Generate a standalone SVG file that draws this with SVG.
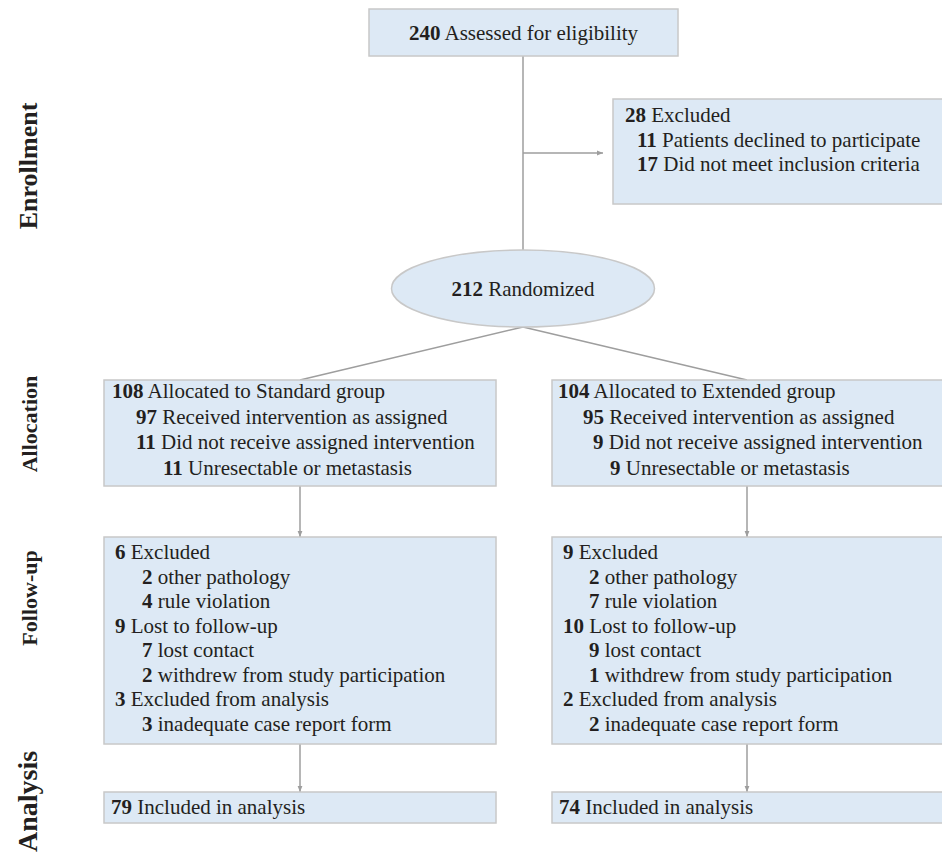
<svg xmlns="http://www.w3.org/2000/svg" width="942" height="854" viewBox="0 0 942 854">
<style>
  .box { fill: #dde9f5; stroke: #c8c8c8; stroke-width: 1.5; }
  .t { font-family: "Liberation Serif", "Times New Roman", serif; font-size: 21px; fill: #231f20; }
  .b { font-weight: bold; }
  .lbl { font-family: "Liberation Serif", "Times New Roman", serif; font-weight: bold; fill: #231f20; }
  .ln { stroke: #9e9e9e; stroke-width: 1.5; fill: none; }
  .arr { stroke: #9e9e9e; stroke-width: 1.5; fill: none; marker-end: url(#ah); }
</style>
<defs>
  <marker id="ah" viewBox="0 0 10 10" refX="10" refY="5" markerWidth="6" markerHeight="6" markerUnits="userSpaceOnUse" orient="auto">
    <path d="M0,1 L10,5 L0,9 Z" fill="#9e9e9e"/>
  </marker>
</defs>
<rect width="942" height="854" fill="#ffffff"/>

<g id="labels">
  <text class="lbl" font-size="26" text-anchor="middle" transform="translate(37,166) rotate(-90)">Enrollment</text>
  <text class="lbl" font-size="22" text-anchor="middle" transform="translate(37,424) rotate(-90)">Allocation</text>
  <text class="lbl" font-size="22" text-anchor="middle" transform="translate(37,598) rotate(-90)">Follow-up</text>
  <text class="lbl" font-size="28" text-anchor="start" transform="translate(37,852) rotate(-90)">Analysis</text>
</g>

<g id="connectors">
  <line class="ln" x1="523" y1="56" x2="523" y2="250"/>
  <line class="arr" x1="523" y1="153" x2="603" y2="153"/>
  <line class="ln" x1="523" y1="327" x2="300" y2="380"/>
  <line class="ln" x1="523" y1="327" x2="747" y2="380"/>
  <line class="arr" x1="300" y1="486" x2="300" y2="537"/>
  <line class="arr" x1="747" y1="486" x2="747" y2="537"/>
  <line class="arr" x1="300" y1="744" x2="300" y2="792"/>
  <line class="arr" x1="747" y1="744" x2="747" y2="792"/>
</g>

<g id="assessed">
  <rect class="box" x="369" y="9" width="309" height="47"/>
  <text class="t" x="523.5" y="40" text-anchor="middle"><tspan class="b">240</tspan> Assessed for eligibility</text>
</g>

<g id="excluded">
  <rect class="box" x="613" y="99" width="335" height="105"/>
  <text class="t" x="625" y="122"><tspan class="b">28</tspan> Excluded</text>
  <text class="t" x="637" y="146.5"><tspan class="b">11</tspan> Patients declined to participate</text>
  <text class="t" x="637" y="171"><tspan class="b">17</tspan> Did not meet inclusion criteria</text>
</g>

<g id="randomized">
  <ellipse class="box" cx="523" cy="288.5" rx="131.5" ry="38.5"/>
  <text class="t" x="523" y="296" text-anchor="middle"><tspan class="b">212</tspan> Randomized</text>
</g>

<g id="alloc-standard">
  <rect class="box" x="104" y="380" width="392" height="106"/>
  <text class="t" x="112" y="398"><tspan class="b">108</tspan> Allocated to Standard group</text>
  <text class="t" x="136" y="423.5"><tspan class="b">97</tspan> Received intervention as assigned</text>
  <text class="t" x="136" y="449"><tspan class="b">11</tspan> Did not receive assigned intervention</text>
  <text class="t" x="163" y="474.5"><tspan class="b">11</tspan> Unresectable or metastasis</text>
</g>

<g id="alloc-extended">
  <rect class="box" x="552" y="380" width="396" height="106"/>
  <text class="t" x="558" y="398"><tspan class="b">104</tspan> Allocated to Extended group</text>
  <text class="t" x="583" y="423.5"><tspan class="b">95</tspan> Received intervention as assigned</text>
  <text class="t" x="593" y="449"><tspan class="b">9</tspan> Did not receive assigned intervention</text>
  <text class="t" x="610" y="474.5"><tspan class="b">9</tspan> Unresectable or metastasis</text>
</g>

<g id="followup-standard">
  <rect class="box" x="104" y="537" width="392" height="207"/>
  <text class="t" x="115" y="559"><tspan class="b">6</tspan> Excluded</text>
  <text class="t" x="142" y="583.5"><tspan class="b">2</tspan> other pathology</text>
  <text class="t" x="142" y="608"><tspan class="b">4</tspan> rule violation</text>
  <text class="t" x="115" y="632.5"><tspan class="b">9</tspan> Lost to follow-up</text>
  <text class="t" x="142" y="657"><tspan class="b">7</tspan> lost contact</text>
  <text class="t" x="142" y="681.5"><tspan class="b">2</tspan> withdrew from study participation</text>
  <text class="t" x="115" y="706"><tspan class="b">3</tspan> Excluded from analysis</text>
  <text class="t" x="142" y="730.5"><tspan class="b">3</tspan> inadequate case report form</text>
</g>

<g id="followup-extended">
  <rect class="box" x="552" y="537" width="396" height="207"/>
  <text class="t" x="563" y="559"><tspan class="b">9</tspan> Excluded</text>
  <text class="t" x="589" y="583.5"><tspan class="b">2</tspan> other pathology</text>
  <text class="t" x="589" y="608"><tspan class="b">7</tspan> rule violation</text>
  <text class="t" x="563" y="632.5"><tspan class="b">10</tspan> Lost to follow-up</text>
  <text class="t" x="589" y="657"><tspan class="b">9</tspan> lost contact</text>
  <text class="t" x="589" y="681.5"><tspan class="b">1</tspan> withdrew from study participation</text>
  <text class="t" x="563" y="706"><tspan class="b">2</tspan> Excluded from analysis</text>
  <text class="t" x="589" y="730.5"><tspan class="b">2</tspan> inadequate case report form</text>
</g>

<g id="analysis-standard">
  <rect class="box" x="104" y="792" width="392" height="31"/>
  <text class="t" x="111" y="814"><tspan class="b">79</tspan> Included in analysis</text>
</g>

<g id="analysis-extended">
  <rect class="box" x="552" y="792" width="396" height="31"/>
  <text class="t" x="559" y="814"><tspan class="b">74</tspan> Included in analysis</text>
</g>
</svg>
